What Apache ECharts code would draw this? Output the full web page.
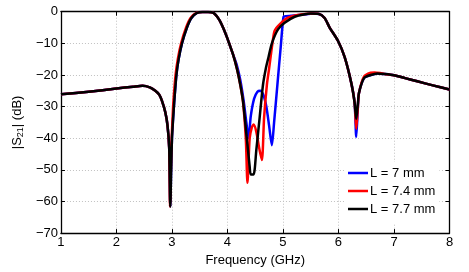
<!DOCTYPE html>
<html>
<head>
<meta charset="utf-8">
<script src="https://cdn.jsdelivr.net/npm/echarts@6/dist/echarts.min.js"></script>
<style>html,body{margin:0;padding:0;background:#fff}#c{width:469px;height:272px}</style>
</head>
<body>
<div id="c"></div>
<script>
const seriesNames = ['L = 7 mm', 'L = 7.4 mm', 'L = 7.7 mm'];
const xTicks = [1, 2, 3, 4, 5, 6, 7, 8];
const yTicks = [0, -10, -20, -30, -40, -50, -60, -70];

const freqL70 = [1.0,1.5,2.0,2.3,2.47,2.6,2.7,2.77,2.82,2.88, 2.92,2.95,2.97,2.985,3.0,3.02,3.04,3.08,3.12,3.18, 3.27,3.35,3.45,3.55,3.65,3.75,3.85,3.92,4.0,4.04, 4.1,4.17,4.23,4.29,4.34,4.38,4.42,4.48,4.54,4.59, 4.65,4.70,4.75,4.80,4.84,4.90,4.96,5.01,5.05,5.15, 5.33,5.45,5.55,5.65,5.75,5.84,5.99,6.11,6.23,6.29, 6.32,6.35,6.37,6.46,6.58,6.7,6.83,7.0,7.2,7.42, 7.7,8.0];
const s21L70 = [-26.1,-25.3,-24.3,-23.7,-23.4,-23.9,-25.0,-26.2,-28.2,-31.8, -36,-43,-61.6,-50,-40,-34,-28.7,-20,-15,-10, -5,-2,-0.4,-0.1,-0.1,-0.4,-2.5,-5,-8.5,-10.5, -13.5,-17,-21.5,-28,-35,-40,-33,-27.5,-25.3,-25, -26.5,-30,-36,-42.2,-35,-23,-11,-1.6,-1.4,-1.3, -1.0,-0.7,-0.6,-0.7,-2,-5,-9.2,-14.3,-22.5,-28.7, -39.6,-30,-25.6,-21,-20,-19.5,-19.7,-20.1,-21,-22, -23.3,-24.6];

const freqL74 = [1.0,1.5,2.0,2.3,2.47,2.6,2.7,2.77,2.82,2.88, 2.92,2.95,2.965,2.98,2.995,3.01,3.025,3.065,3.105,3.165, 3.255,3.335,3.44,3.55,3.65,3.75,3.85,3.92,4.0,4.04, 4.1,4.17,4.23,4.28,4.33,4.36,4.40,4.44,4.47,4.52, 4.57,4.62,4.66,4.71,4.75,4.81,4.85,4.94,5.09,5.27, 5.4,5.5,5.65,5.75,5.84,5.99,6.11,6.23,6.29,6.32, 6.35,6.37,6.46,6.58,6.65,6.75,6.83,7.0,7.2,7.42, 7.7,8.0];
const s21L74 = [-26.1,-25.3,-24.3,-23.7,-23.4,-23.9,-25.0,-26.2,-28.2,-31.8, -36,-43,-61.6,-50,-40,-34,-28.7,-20,-15,-10, -5,-2,-0.4,-0.1,-0.1,-0.4,-2.5,-5,-8.5,-10.5, -13.5,-18,-23,-28.5,-40,-54.1,-40,-36.5,-35.7,-38, -43,-46.9,-33.4,-23.1,-18,-10,-6,-4,-1.9,-1.0, -0.7,-0.6,-0.7,-2,-5,-9.2,-14.3,-22.5,-28.7,-37, -30,-25.6,-20.5,-19.3,-19.2,-19.4,-19.7,-20.1,-21,-22, -23.3,-24.6];

const freqL77 = [1.0,1.5,2.0,2.3,2.47,2.6,2.7,2.77,2.82,2.88, 2.92,2.95,2.97,2.985,3.0,3.02,3.04,3.08,3.12,3.18, 3.27,3.35,3.45,3.55,3.65,3.75,3.85,3.92,4.0,4.04, 4.1,4.17,4.23,4.28,4.34,4.40,4.42,4.47,4.52,4.58, 4.64,4.69,4.74,4.80,4.91,5.03,5.21,5.39,5.5,5.65, 5.75,5.84,5.99,6.11,6.23,6.29,6.32,6.35,6.37,6.46, 6.58,6.7,6.83,7.0,7.2,7.42,7.7,8.0];
const s21L77 = [-26.1,-25.3,-24.3,-23.7,-23.4,-23.9,-25.0,-26.2,-28.2,-31.8, -36,-43,-61.6,-50,-40,-34,-28.7,-20,-15,-10, -5,-2,-0.4,-0.1,-0.1,-0.4,-2.5,-5,-8.5,-10.5, -13.5,-18,-23,-28.3,-38.6,-49,-51.5,-51.5,-43.7,-33.4, -23.1,-18,-14.3,-10,-5.6,-3.5,-1.6,-0.8,-0.6,-0.7, -2,-5,-9.2,-14.3,-22.5,-28.7,-33.9,-29,-25.6,-21, -20,-19.5,-19.7,-20.1,-21,-22,-23.3,-24.6];

const colors = ['#0000ff', '#ff0000', '#000000'];
const FONT = 'Liberation Sans, Arial, Helvetica, sans-serif';

function zip(xs, ys) { return xs.map((x, i) => [x, ys[i]]); }
const minus = v => String(v).replace('-', '\u2212');

const chart = echarts.init(document.getElementById('c'), null, {renderer: 'canvas'});
const xMin = xTicks[0], xMax = xTicks[xTicks.length - 1];
const yMin = yTicks[yTicks.length - 1], yMax = yTicks[0];

const baseX = {
  type: 'value', min: xMin, max: xMax, interval: 1,
  axisLine: {show: true, onZero: false, lineStyle: {color: '#000', width: 1.3}},
  axisTick: {show: true, inside: true, length: 4, lineStyle: {color: '#000'}},
  splitLine: {show: false}
};
const baseY = {
  type: 'value', min: yMin, max: yMax, interval: 10,
  axisLine: {show: true, onZero: false, lineStyle: {color: '#000', width: 1.3}},
  axisTick: {show: true, inside: true, length: 4, lineStyle: {color: '#000'}},
  splitLine: {show: false}
};

chart.setOption({
  animation: false,
  color: colors,
  textStyle: {fontFamily: FONT},
  grid: {left: 57.5, right: 19.5, top: 11.7, bottom: 34.2, containLabel: false},
  xAxis: [
    Object.assign({}, baseX, {
      position: 'bottom',
      name: 'Frequency (GHz)', nameLocation: 'middle', nameGap: 16,
      nameTextStyle: {fontSize: 13, color: '#000', fontFamily: FONT},
      axisLabel: {fontSize: 13, color: '#000', margin: 3, fontFamily: FONT},
      splitLine: {show: true, lineStyle: {color: '#c0c0c0', type: [1, 2], width: 1}}
    }),
    Object.assign({}, baseX, {position: 'top', axisLabel: {show: false}})
  ],
  yAxis: [
    Object.assign({}, baseY, {
      position: 'left',
      name: '|S{sub|21}| (dB)', nameLocation: 'middle', nameGap: 23, nameRotate: 90,
      nameTextStyle: {fontSize: 13, color: '#000', fontFamily: FONT, lineHeight: 16,
        rich: {sub: {fontSize: 9, color: '#000', fontFamily: FONT, verticalAlign: 'bottom', lineHeight: 16, padding: [8, 0, 0, 0]}}},
      axisLabel: {fontSize: 13, color: '#000', margin: 3, fontFamily: FONT, formatter: minus},
      splitLine: {show: true, lineStyle: {color: '#c0c0c0', type: [1, 2], width: 1}}
    }),
    Object.assign({}, baseY, {position: 'right', axisLabel: {show: false}})
  ],
  legend: {
    orient: 'vertical', left: 345, top: 162,
    data: seriesNames,
    icon: 'rect', itemWidth: 20, itemHeight: 2.5, itemGap: 4,
    backgroundColor: '#fff', padding: [4, 4, 8, 3],
    textStyle: {fontSize: 13, color: '#000', fontFamily: FONT, padding: [0, 0, 0, -3], lineHeight: 14}
  },
  series: [
    {name: seriesNames[0], data: zip(freqL70, s21L70)},
    {name: seriesNames[1], data: zip(freqL74, s21L74)},
    {name: seriesNames[2], data: zip(freqL77, s21L77)}
  ].map((s, i) => Object.assign({
    type: 'line', showSymbol: false, symbol: 'none', smooth: 0.25,
    lineStyle: {width: 2.5, color: colors[i], join: 'round'}, itemStyle: {color: colors[i]}, z: 2 + i
  }, s))
});
</script>
</body>
</html>
